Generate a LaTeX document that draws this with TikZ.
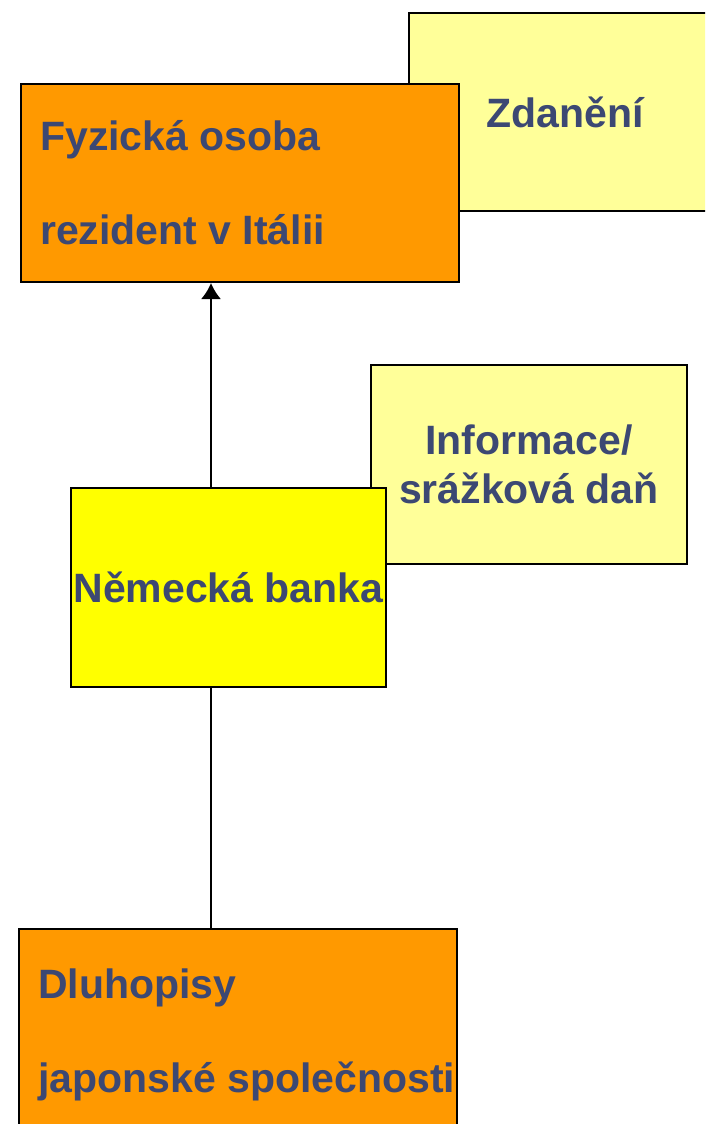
\documentclass[tikz,border=0pt]{standalone}
\usepackage{fontspec}
\setmainfont{Liberation Sans}
\usetikzlibrary{arrows.meta, positioning, calc}

\definecolor{taxyellow}{RGB}{255,255,153}
\definecolor{bankyellow}{RGB}{255,255,0}
\definecolor{boxorange}{RGB}{255,153,0}
\definecolor{textblue}{RGB}{60,72,115}

\begin{document}
\begin{tikzpicture}[
		x=1pt, y=-1pt,
		font=\bfseries\fontsize{41}{49}\selectfont,
		box/.style={draw, line width=2pt, anchor=north west, inner sep=0pt},
		boxtext/.style={text=textblue, inner sep=0pt},
		link/.style={line width=2pt},
		uparrow/.style={link, -{Latex[length=16pt, width=20pt]}}
		]
		
		\useasboundingbox (0,0) rectangle (705,1124);
		\clip (0,0) rectangle (705,1124);
		
		% =========================================================
		% 1. Top row: taxation and the person
		% =========================================================
		\node[box, fill=taxyellow, minimum width=312pt, minimum height=198pt] (TaxBox) at (408,12) {};
		\node[boxtext] (TaxText) at (TaxBox.center) {Zdanění};
		
		\node[box, fill=boxorange, minimum width=438pt, minimum height=198pt] (PersonBox) at (20,83) {};
		\node[boxtext, anchor=base west] (PersonLine1) at (40,150) {Fyzická osoba};
		\node[boxtext, anchor=base west] (PersonLine2) at (40,244) {rezident v Itálii};
		
		% =========================================================
		% 2. Middle row: information and the bank
		% =========================================================
		\node[box, fill=taxyellow, minimum width=316pt, minimum height=199pt] (InfoBox) at (370,364) {};
		\node[boxtext, align=center] (InfoText) at (InfoBox.center) {Informace/\\srážková daň};
		
		\node[box, fill=bankyellow, minimum width=315pt, minimum height=199pt] (BankBox) at (70,487) {};
		\node[boxtext] (BankText) at (BankBox.center) {Německá banka};
		
		% =========================================================
		% 3. Bottom row: the bonds
		% =========================================================
		\node[box, fill=boxorange, minimum width=438pt, minimum height=210pt] (BondBox) at (18,928) {};
		\node[boxtext, anchor=base west] (BondLine1) at (38,998) {Dluhopisy};
		\node[boxtext, anchor=base west] (BondLine2) at (38,1092) {japonské společnosti};
		
		% Connectors along one vertical line
		\coordinate (Spine) at (211,0);
		\draw[uparrow] (Spine |- BankBox.north) -- (Spine |- PersonBox.south);
		\draw[link] (Spine |- BondBox.north) -- (Spine |- BankBox.south);
	\end{tikzpicture}
\end{document}
